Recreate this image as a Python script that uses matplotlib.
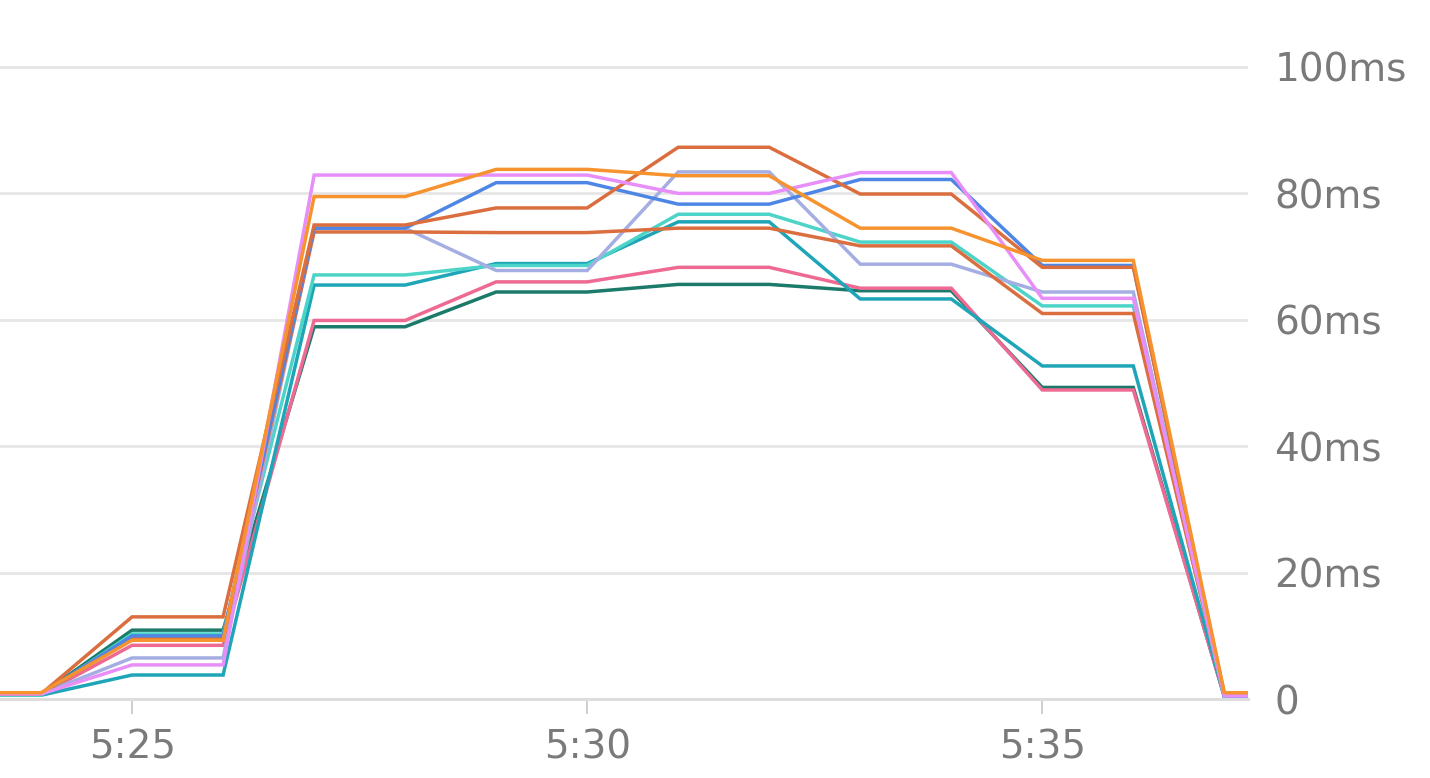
import matplotlib.pyplot as plt
from matplotlib.ticker import FuncFormatter

plt.rcParams['font.family'] = ['DejaVu Sans']

# minutes after 5:00
minutes = [23, 24, 25, 26, 27, 28, 29, 30, 31, 32, 33, 34, 35, 36, 37, 38]

violet = [0.8, 0.8, 5.4, 5.4, 82.9, 82.9, 82.9, 82.9, 80.0, 80.0, 83.3, 83.3, 63.4, 63.4, 0.5, 0.5]
orange = [1.0, 1.0, 9.3, 9.3, 79.5, 79.5, 83.8, 83.8, 82.8, 82.8, 74.5, 74.5, 69.4, 69.4, 1.0, 1.0]
blue = [0.8, 0.8, 10.0, 10.0, 74.5, 74.5, 81.7, 81.7, 78.3, 78.3, 82.2, 82.2, 68.6, 68.6, 0.5, 0.5]
brown_a = [0.8, 0.8, 13.0, 13.0, 75.0, 75.0, 77.7, 77.7, 87.3, 87.3, 79.9, 79.9, 68.3, 68.3, 0.8, 0.8]
brown_b = [0.8, 0.8, 9.6, 9.6, 73.9, 73.9, 73.8, 73.8, 74.5, 74.5, 71.7, 71.7, 61.0, 61.0, 0.8, 0.8]
lavender = [0.8, 0.8, 6.5, 6.5, 74.5, 74.5, 67.8, 67.8, 83.4, 83.4, 68.8, 68.8, 64.4, 64.4, 0.5, 0.5]
turquoise = [0.6, 0.6, 10.3, 10.3, 67.1, 67.1, 68.6, 68.6, 76.7, 76.7, 72.3, 72.3, 62.2, 62.2, 0.3, 0.3]
teal = [0.6, 0.6, 3.8, 3.8, 65.5, 65.5, 68.9, 68.9, 75.5, 75.5, 63.3, 63.3, 52.7, 52.7, 0.4, 0.4]
pink = [0.7, 0.7, 8.5, 8.5, 59.9, 59.9, 66.0, 66.0, 68.3, 68.3, 65.0, 65.0, 48.9, 48.9, 0.4, 0.4]
dark_green = [0.7, 0.7, 10.9, 10.9, 58.9, 58.9, 64.4, 64.4, 65.6, 65.6, 64.6, 64.6, 49.3, 49.3, 0.4, 0.4]

series = [
    (dark_green, '#1c7a6a'),
    (pink, '#ee6a93'),
    (teal, '#1fa5b8'),
    (turquoise, '#4dd4c8'),
    (lavender, '#a5aee3'),
    (brown_b, '#db6e3e'),
    (blue, '#4e86e6'),
    (brown_a, '#db6e3e'),
    (violet, '#e88ef8'),
    (orange, '#f7932f'),
]

fig = plt.figure(figsize=(14.3, 7.78), dpi=100)
ax = fig.add_axes([0, 0.1015, 1248 / 1430, 0.8985])

for vals, col in series:
    ax.plot(minutes, vals, color=col, lw=2.5, solid_joinstyle='miter')

ax.set_xlim(23.549, 37.26)
ax.set_ylim(0, 110.6)

ax.set_yticks([0, 20, 40, 60, 80, 100])
ax.yaxis.set_major_formatter(FuncFormatter(lambda v, p: '0' if v == 0 else '%dms' % v))
ax.yaxis.tick_right()
ax.tick_params(axis='y', length=0, pad=19, labelsize=28, labelcolor='#7a7a7a')
ax.grid(axis='y', color='#e6e6e6', lw=2)
ax.set_axisbelow(True)

ax.set_xticks([25, 30, 35])
ax.xaxis.set_major_formatter(FuncFormatter(lambda v, p: '5:%02d' % v))
ax.tick_params(axis='x', length=11, width=1.3, color='#cccccc', pad=10,
               labelsize=28, labelcolor='#7a7a7a')

for s in ['top', 'left', 'right']:
    ax.spines[s].set_visible(False)
ax.spines['bottom'].set_color('#dddddd')
ax.spines['bottom'].set_linewidth(2.2)

fig.savefig('out.png', dpi=100)
